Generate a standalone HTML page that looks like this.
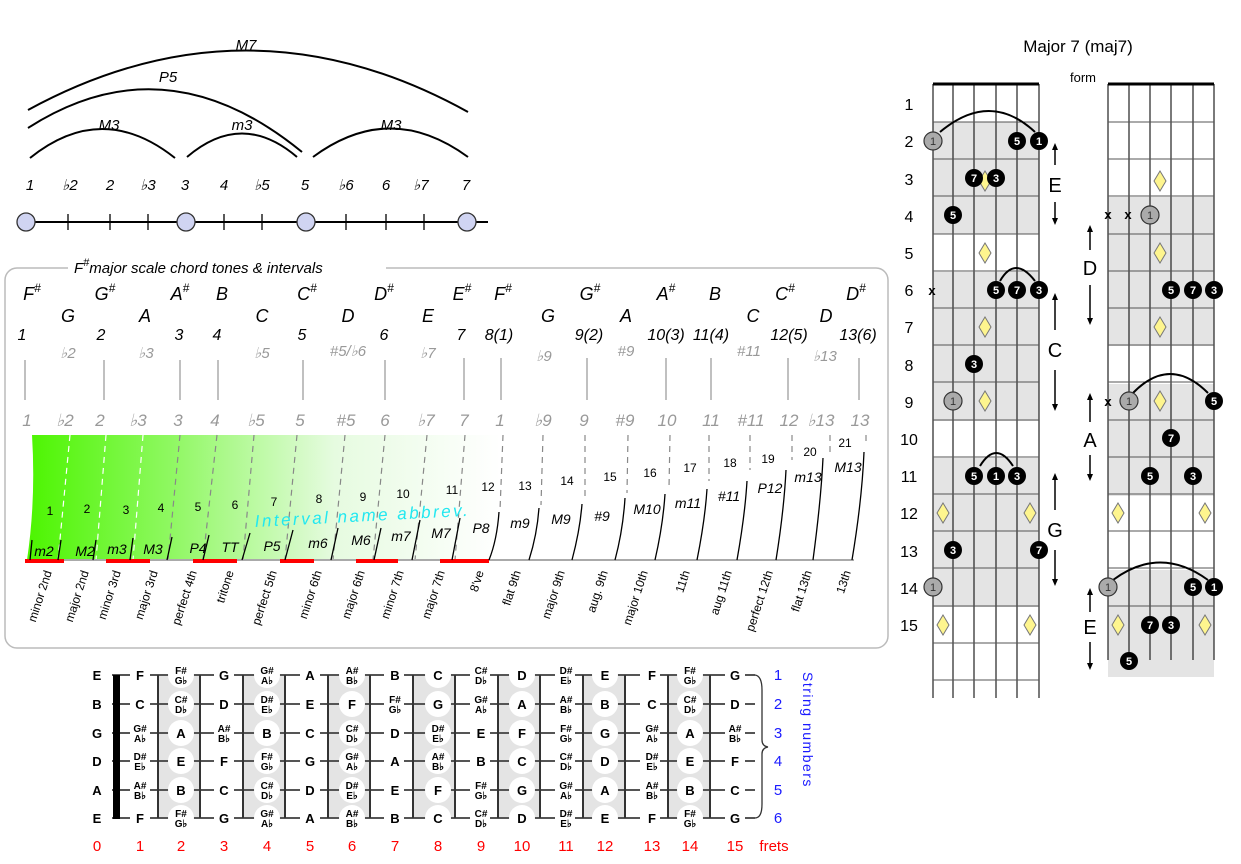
<!DOCTYPE html>
<html><head><meta charset="utf-8"><style>
html,body{margin:0;padding:0;background:#fff}
svg{display:block;font-family:"Liberation Sans",sans-serif}
.i{font-style:italic}
.g{fill:#999}
.fb text{font-weight:bold;font-size:13px;text-anchor:middle}
.fb .s{font-size:10px}
</style></head><body>
<svg width="1241" height="864" viewBox="0 0 1241 864" xmlns="http://www.w3.org/2000/svg">
<defs>
<linearGradient id="gr" x1="0" x2="1" y1="0" y2="0"><stop offset="0" stop-color="#4cf500"/><stop offset="0.3" stop-color="#8ef860"/><stop offset="0.65" stop-color="#e6fbe0"/><stop offset="1" stop-color="#fff"/></linearGradient>
</defs>
<!-- top arcs -->
<g fill="none" stroke="#000" stroke-width="2">
<path d="M28 110 Q248 -10 468 112"/>
<path d="M28 128 Q165 40 302 152"/>
<path d="M30 158 Q102 100 175 158"/>
<path d="M187 157 Q242 110 297 157"/>
<path d="M313 157 Q390 100 468 157"/>
</g>
<g class="i" font-size="15" text-anchor="middle">
<text x="246" y="50">M7</text><text x="168" y="82">P5</text><text x="109" y="130">M3</text><text x="242" y="130">m3</text><text x="391" y="130">M3</text>
<text x="30" y="190">1</text><text x="70" y="190">♭2</text><text x="110" y="190">2</text><text x="148" y="190">♭3</text><text x="185" y="190">3</text><text x="224" y="190">4</text><text x="262" y="190">♭5</text><text x="305" y="190">5</text><text x="346" y="190">♭6</text><text x="386" y="190">6</text><text x="421" y="190">♭7</text><text x="466" y="190">7</text>
</g>
<line x1="25" y1="222" x2="488" y2="222" stroke="#000" stroke-width="2"/>
<g stroke="#000" stroke-width="1.3"><line x1="68" y1="214" x2="68" y2="230"/><line x1="110" y1="214" x2="110" y2="230"/><line x1="148" y1="214" x2="148" y2="230"/><line x1="224" y1="214" x2="224" y2="230"/><line x1="262" y1="214" x2="262" y2="230"/><line x1="346" y1="214" x2="346" y2="230"/><line x1="386" y1="214" x2="386" y2="230"/><line x1="424" y1="214" x2="424" y2="230"/></g>
<g fill="#d0d4f2" stroke="#333" stroke-width="1.3"><circle cx="26" cy="222" r="9"/><circle cx="186" cy="222" r="9"/><circle cx="306" cy="222" r="9"/><circle cx="467" cy="222" r="9"/></g>

<!-- box -->
<rect x="5" y="268" width="883" height="380" rx="12" fill="#fff" stroke="#bbb" stroke-width="1.5"/>
<rect x="68" y="258" width="318" height="18" fill="#fff"/>
<text x="74" y="273" class="i" font-size="15">F<tspan font-size="11" dy="-7">#</tspan><tspan dy="7">major scale chord tones &amp; intervals</tspan></text>

<g class="i" font-size="18" text-anchor="middle">
<text x="32" y="300">F<tspan font-size="12" dy="-8">#</tspan></text>
<text x="105" y="300">G<tspan font-size="12" dy="-8">#</tspan></text>
<text x="180" y="300">A<tspan font-size="12" dy="-8">#</tspan></text>
<text x="222" y="300">B</text>
<text x="307" y="300">C<tspan font-size="12" dy="-8">#</tspan></text>
<text x="384" y="300">D<tspan font-size="12" dy="-8">#</tspan></text>
<text x="462" y="300">E<tspan font-size="12" dy="-8">#</tspan></text>
<text x="503" y="300">F<tspan font-size="12" dy="-8">#</tspan></text>
<text x="590" y="300">G<tspan font-size="12" dy="-8">#</tspan></text>
<text x="666" y="300">A<tspan font-size="12" dy="-8">#</tspan></text>
<text x="715" y="300">B</text>
<text x="785" y="300">C<tspan font-size="12" dy="-8">#</tspan></text>
<text x="856" y="300">D<tspan font-size="12" dy="-8">#</tspan></text>
<text x="68" y="322">G</text><text x="145" y="322">A</text><text x="262" y="322">C</text><text x="348" y="322">D</text><text x="428" y="322">E</text><text x="548" y="322">G</text><text x="626" y="322">A</text><text x="753" y="322">C</text><text x="826" y="322">D</text>
</g>
<g class="i" font-size="16" text-anchor="middle">
<text x="22" y="340">1</text><text x="101" y="340">2</text><text x="179" y="340">3</text><text x="217" y="340">4</text><text x="302" y="340">5</text><text x="384" y="340">6</text><text x="461" y="340">7</text><text x="499" y="340">8(1)</text><text x="589" y="340">9(2)</text><text x="666" y="340">10(3)</text><text x="711" y="340">11(4)</text><text x="789" y="340">12(5)</text><text x="858" y="340">13(6)</text>
</g>
<g class="i g" font-size="15" text-anchor="middle">
<text x="68" y="358">♭2</text><text x="146" y="358">♭3</text><text x="262" y="358">♭5</text><text x="348" y="356">#5/♭6</text><text x="428" y="358">♭7</text><text x="544" y="361">♭9</text><text x="626" y="356">#9</text><text x="749" y="356">#11</text><text x="825" y="361">♭13</text>
</g>
<g stroke="#aaa" stroke-width="1.5"><line x1="25" y1="360" x2="25" y2="400"/><line x1="104" y1="360" x2="104" y2="400"/><line x1="180" y1="360" x2="180" y2="400"/><line x1="218" y1="360" x2="218" y2="400"/><line x1="303" y1="360" x2="303" y2="400"/><line x1="385" y1="360" x2="385" y2="400"/><line x1="464" y1="358" x2="464" y2="400"/><line x1="501" y1="358" x2="501" y2="400"/><line x1="587" y1="358" x2="587" y2="400"/><line x1="666" y1="358" x2="666" y2="400"/><line x1="711" y1="358" x2="711" y2="400"/><line x1="788" y1="358" x2="788" y2="400"/><line x1="859" y1="358" x2="859" y2="400"/></g>
<g class="i g" font-size="17" text-anchor="middle">
<text x="27" y="426">1</text><text x="65" y="426">♭2</text><text x="100" y="426">2</text><text x="138" y="426">♭3</text><text x="178" y="426">3</text><text x="215" y="426">4</text><text x="256" y="426">♭5</text><text x="300" y="426">5</text><text x="346" y="426">#5</text><text x="385" y="426">6</text><text x="426" y="426">♭7</text><text x="464" y="426">7</text><text x="500" y="426">1</text><text x="543" y="426">♭9</text><text x="584" y="426">9</text><text x="625" y="426">#9</text><text x="667" y="426">10</text><text x="711" y="426">11</text><text x="751" y="426">#11</text><text x="789" y="426">12</text><text x="821" y="426">♭13</text><text x="860" y="426">13</text>
</g>
<!-- green area -->
<path d="M32 435 L500 435 L500 560 L27 560 Q36 500 32 435 Z" fill="url(#gr)"/>
<g stroke-dasharray="6,5" stroke-width="1.2" stroke="#fff"><line x1="70" y1="435" x2="58" y2="560"/><line x1="106" y1="435" x2="96" y2="560"/><line x1="143" y1="435" x2="133" y2="560"/></g>
<g stroke-dasharray="6,5" stroke-width="1.2" stroke="#888"><line x1="180" y1="435" x2="168" y2="560"/><line x1="217" y1="435" x2="203" y2="560"/><line x1="254" y1="435" x2="243" y2="560"/><line x1="297" y1="435" x2="285" y2="560"/><line x1="345" y1="435" x2="333" y2="560"/><line x1="385" y1="435" x2="373" y2="560"/><line x1="427" y1="435" x2="415" y2="560"/><line x1="465" y1="435" x2="455" y2="560"/><line x1="503" y1="435" x2="500" y2="510"/><line x1="543" y1="435" x2="541" y2="505"/><line x1="585" y1="435" x2="585" y2="500"/><line x1="628" y1="435" x2="627" y2="493"/><line x1="670" y1="435" x2="669" y2="488"/><line x1="709" y1="435" x2="709" y2="481"/><line x1="750" y1="435" x2="750" y2="470"/><line x1="792" y1="435" x2="792" y2="460"/><line x1="830" y1="435" x2="830" y2="455"/><line x1="866" y1="435" x2="866" y2="445"/></g>
<line x1="25" y1="560" x2="854" y2="560" stroke="#aaa" stroke-width="2"/>
<g stroke="#f00" stroke-width="4"><line x1="25" y1="561" x2="64" y2="561"/><line x1="106" y1="561" x2="150" y2="561"/><line x1="193" y1="561" x2="237" y2="561"/><line x1="280" y1="561" x2="314" y2="561"/><line x1="356" y1="561" x2="398" y2="561"/><line x1="440" y1="561" x2="489" y2="561"/></g>
<g fill="none" stroke="#000" stroke-width="1.3">
<path d="M30 560 L32 540"/><path d="M58 560 L61 540"/><path d="M93 560 L96 540"/><path d="M130 560 L133 538"/><path d="M167 560 L172 537"/><path d="M203 560 L209 535"/><path d="M242 560 L250 533"/><path d="M285 560 L293 530"/><path d="M331 560 L338 528"/><path d="M374 560 L381 528"/><path d="M412 560 L420 520"/><path d="M452 560 L460 518"/>
<path d="M489 560 Q497 540 499 512"/><path d="M529 560 Q537 535 539 508"/><path d="M572 560 Q580 530 582 504"/><path d="M615 560 Q623 530 625 498"/><path d="M655 560 Q663 525 665 494"/><path d="M697 560 Q705 520 707 489"/><path d="M737 560 Q745 515 747 481"/><path d="M776 560 Q784 510 786 470"/><path d="M813 560 Q821 500 823 458"/><path d="M852 560 Q862 500 864 452"/>
</g>
<g font-size="12" text-anchor="middle">
<text x="50" y="515">1</text><text x="87" y="513">2</text><text x="126" y="514">3</text><text x="161" y="512">4</text><text x="198" y="511">5</text><text x="235" y="509">6</text><text x="274" y="506">7</text><text x="319" y="503">8</text><text x="363" y="501">9</text><text x="403" y="498">10</text><text x="452" y="494">11</text><text x="488" y="491">12</text><text x="525" y="490">13</text><text x="567" y="485">14</text><text x="610" y="481">15</text><text x="650" y="477">16</text><text x="690" y="472">17</text><text x="730" y="467">18</text><text x="768" y="463">19</text><text x="810" y="456">20</text><text x="845" y="447">21</text>
</g>
<g class="i" font-size="14" text-anchor="middle">
<text x="44" y="556">m2</text><text x="85" y="556">M2</text><text x="117" y="554">m3</text><text x="153" y="554">M3</text><text x="198" y="553">P4</text><text x="230" y="552">TT</text><text x="272" y="551">P5</text><text x="318" y="548">m6</text><text x="361" y="545">M6</text><text x="401" y="541">m7</text><text x="441" y="538">M7</text><text x="481" y="533">P8</text><text x="520" y="528">m9</text><text x="561" y="524">M9</text><text x="602" y="521">#9</text><text x="647" y="514">M10</text><text x="688" y="508">m11</text><text x="729" y="501">#11</text><text x="770" y="493">P12</text><text x="808" y="482">m13</text><text x="848" y="472">M13</text>
</g>
<text x="255" y="527" transform="rotate(-3 255 527)" class="i" font-size="17" fill="#22e8f0" letter-spacing="2.5">Interval name abbrev.</text>
<g font-size="12" text-anchor="end">
<text transform="translate(52,572) rotate(-72)">minor 2nd</text><text transform="translate(89,572) rotate(-72)">major 2nd</text><text transform="translate(121,572) rotate(-72)">minor 3rd</text><text transform="translate(158,572) rotate(-72)">major 3rd</text><text transform="translate(197,572) rotate(-72)">perfect 4th</text><text transform="translate(234,572) rotate(-72)">tritone</text><text transform="translate(277,572) rotate(-72)">perfect 5th</text><text transform="translate(322,572) rotate(-72)">minor 6th</text><text transform="translate(365,572) rotate(-72)">major 6th</text><text transform="translate(404,572) rotate(-72)">minor 7th</text><text transform="translate(445,572) rotate(-72)">major 7th</text><text transform="translate(484,572) rotate(-72)">8've</text><text transform="translate(521,572) rotate(-72)">flat 9th</text><text transform="translate(565,572) rotate(-72)">major 9th</text><text transform="translate(608,572) rotate(-72)">aug. 9th</text><text transform="translate(648,572) rotate(-72)">major 10th</text><text transform="translate(690,572) rotate(-72)">11th</text><text transform="translate(732,572) rotate(-72)">aug 11th</text><text transform="translate(773,572) rotate(-72)">perfect 12th</text><text transform="translate(812,572) rotate(-72)">flat 13th</text><text transform="translate(851,572) rotate(-72)">13th</text>
</g>

<!-- bottom fretboard -->
<g fill="#e4e4e4"><rect x="158" y="675" width="42" height="144"/><rect x="243" y="675" width="42" height="144"/><rect x="328" y="675" width="42" height="144"/><rect x="413" y="675" width="42" height="144"/><rect x="498" y="675" width="42" height="144"/><rect x="583" y="675" width="42" height="144"/><rect x="668" y="675" width="42" height="144"/></g>
<g stroke="#555" stroke-width="2"><line x1="112" y1="675" x2="755" y2="675"/><line x1="112" y1="704" x2="755" y2="704"/><line x1="112" y1="733" x2="755" y2="733"/><line x1="112" y1="761" x2="755" y2="761"/><line x1="112" y1="790" x2="755" y2="790"/><line x1="112" y1="818" x2="755" y2="818"/></g>
<g fill="#fff"><rect x="130" y="668" width="20" height="158"/><rect x="214" y="668" width="20" height="158"/><rect x="300" y="668" width="20" height="158"/><rect x="384" y="668" width="20" height="158"/><rect x="470" y="668" width="20" height="158"/><rect x="555" y="668" width="20" height="158"/><rect x="640" y="668" width="20" height="158"/><rect x="725" y="668" width="20" height="158"/></g>
<g fill="#fff"><circle cx="181" cy="675" r="13"/><circle cx="181" cy="704" r="13"/><circle cx="181" cy="733" r="13"/><circle cx="181" cy="761" r="13"/><circle cx="181" cy="790" r="13"/><circle cx="181" cy="818" r="13"/>
<circle cx="267" cy="675" r="13"/><circle cx="267" cy="704" r="13"/><circle cx="267" cy="733" r="13"/><circle cx="267" cy="761" r="13"/><circle cx="267" cy="790" r="13"/><circle cx="267" cy="818" r="13"/>
<circle cx="352" cy="675" r="13"/><circle cx="352" cy="704" r="13"/><circle cx="352" cy="733" r="13"/><circle cx="352" cy="761" r="13"/><circle cx="352" cy="790" r="13"/><circle cx="352" cy="818" r="13"/>
<circle cx="438" cy="675" r="13"/><circle cx="438" cy="704" r="13"/><circle cx="438" cy="733" r="13"/><circle cx="438" cy="761" r="13"/><circle cx="438" cy="790" r="13"/><circle cx="438" cy="818" r="13"/>
<circle cx="522" cy="675" r="13"/><circle cx="522" cy="704" r="13"/><circle cx="522" cy="733" r="13"/><circle cx="522" cy="761" r="13"/><circle cx="522" cy="790" r="13"/><circle cx="522" cy="818" r="13"/>
<circle cx="605" cy="675" r="13"/><circle cx="605" cy="704" r="13"/><circle cx="605" cy="733" r="13"/><circle cx="605" cy="761" r="13"/><circle cx="605" cy="790" r="13"/><circle cx="605" cy="818" r="13"/>
<circle cx="690" cy="675" r="13"/><circle cx="690" cy="704" r="13"/><circle cx="690" cy="733" r="13"/><circle cx="690" cy="761" r="13"/><circle cx="690" cy="790" r="13"/><circle cx="690" cy="818" r="13"/></g>
<g stroke="#333" stroke-width="2"><line x1="158" y1="675" x2="158" y2="818"/><line x1="200" y1="675" x2="200" y2="818"/><line x1="243" y1="675" x2="243" y2="818"/><line x1="285" y1="675" x2="285" y2="818"/><line x1="328" y1="675" x2="328" y2="818"/><line x1="370" y1="675" x2="370" y2="818"/><line x1="413" y1="675" x2="413" y2="818"/><line x1="455" y1="675" x2="455" y2="818"/><line x1="498" y1="675" x2="498" y2="818"/><line x1="540" y1="675" x2="540" y2="818"/><line x1="583" y1="675" x2="583" y2="818"/><line x1="625" y1="675" x2="625" y2="818"/><line x1="668" y1="675" x2="668" y2="818"/><line x1="710" y1="675" x2="710" y2="818"/></g>
<rect x="113" y="675" width="7" height="144" fill="#000"/>
<path d="M755 675 Q762 676 762 690 L762 740 Q762 746 768 747 Q762 748 762 754 L762 804 Q762 818 755 818" fill="none" stroke="#333" stroke-width="1.3"/>
<g class="fb">
<text x="97" y="680">E</text><text x="97" y="709">B</text><text x="97" y="738">G</text><text x="97" y="766">D</text><text x="97" y="795">A</text><text x="97" y="823">E</text>
<text x="140" y="680">F</text><text x="181" y="674" class="s">F#</text><text x="181" y="684" class="s">G♭</text><text x="224" y="680">G</text><text x="267" y="674" class="s">G#</text><text x="267" y="684" class="s">A♭</text><text x="310" y="680">A</text><text x="352" y="674" class="s">A#</text><text x="352" y="684" class="s">B♭</text><text x="395" y="680">B</text><text x="438" y="680">C</text><text x="481" y="674" class="s">C#</text><text x="481" y="684" class="s">D♭</text><text x="522" y="680">D</text><text x="566" y="674" class="s">D#</text><text x="566" y="684" class="s">E♭</text><text x="605" y="680">E</text><text x="652" y="680">F</text><text x="690" y="674" class="s">F#</text><text x="690" y="684" class="s">G♭</text><text x="735" y="680">G</text>
<text x="140" y="709">C</text><text x="181" y="703" class="s">C#</text><text x="181" y="713" class="s">D♭</text><text x="224" y="709">D</text><text x="267" y="703" class="s">D#</text><text x="267" y="713" class="s">E♭</text><text x="310" y="709">E</text><text x="352" y="709">F</text><text x="395" y="703" class="s">F#</text><text x="395" y="713" class="s">G♭</text><text x="438" y="709">G</text><text x="481" y="703" class="s">G#</text><text x="481" y="713" class="s">A♭</text><text x="522" y="709">A</text><text x="566" y="703" class="s">A#</text><text x="566" y="713" class="s">B♭</text><text x="605" y="709">B</text><text x="652" y="709">C</text><text x="690" y="703" class="s">C#</text><text x="690" y="713" class="s">D♭</text><text x="735" y="709">D</text>
<text x="140" y="732" class="s">G#</text><text x="140" y="742" class="s">A♭</text><text x="181" y="738">A</text><text x="224" y="732" class="s">A#</text><text x="224" y="742" class="s">B♭</text><text x="267" y="738">B</text><text x="310" y="738">C</text><text x="352" y="732" class="s">C#</text><text x="352" y="742" class="s">D♭</text><text x="395" y="738">D</text><text x="438" y="732" class="s">D#</text><text x="438" y="742" class="s">E♭</text><text x="481" y="738">E</text><text x="522" y="738">F</text><text x="566" y="732" class="s">F#</text><text x="566" y="742" class="s">G♭</text><text x="605" y="738">G</text><text x="652" y="732" class="s">G#</text><text x="652" y="742" class="s">A♭</text><text x="690" y="738">A</text><text x="735" y="732" class="s">A#</text><text x="735" y="742" class="s">B♭</text>
<text x="140" y="760" class="s">D#</text><text x="140" y="770" class="s">E♭</text><text x="181" y="766">E</text><text x="224" y="766">F</text><text x="267" y="760" class="s">F#</text><text x="267" y="770" class="s">G♭</text><text x="310" y="766">G</text><text x="352" y="760" class="s">G#</text><text x="352" y="770" class="s">A♭</text><text x="395" y="766">A</text><text x="438" y="760" class="s">A#</text><text x="438" y="770" class="s">B♭</text><text x="481" y="766">B</text><text x="522" y="766">C</text><text x="566" y="760" class="s">C#</text><text x="566" y="770" class="s">D♭</text><text x="605" y="766">D</text><text x="652" y="760" class="s">D#</text><text x="652" y="770" class="s">E♭</text><text x="690" y="766">E</text><text x="735" y="766">F</text>
<text x="140" y="789" class="s">A#</text><text x="140" y="799" class="s">B♭</text><text x="181" y="795">B</text><text x="224" y="795">C</text><text x="267" y="789" class="s">C#</text><text x="267" y="799" class="s">D♭</text><text x="310" y="795">D</text><text x="352" y="789" class="s">D#</text><text x="352" y="799" class="s">E♭</text><text x="395" y="795">E</text><text x="438" y="795">F</text><text x="481" y="789" class="s">F#</text><text x="481" y="799" class="s">G♭</text><text x="522" y="795">G</text><text x="566" y="789" class="s">G#</text><text x="566" y="799" class="s">A♭</text><text x="605" y="795">A</text><text x="652" y="789" class="s">A#</text><text x="652" y="799" class="s">B♭</text><text x="690" y="795">B</text><text x="735" y="795">C</text>
<text x="140" y="823">F</text><text x="181" y="817" class="s">F#</text><text x="181" y="827" class="s">G♭</text><text x="224" y="823">G</text><text x="267" y="817" class="s">G#</text><text x="267" y="827" class="s">A♭</text><text x="310" y="823">A</text><text x="352" y="817" class="s">A#</text><text x="352" y="827" class="s">B♭</text><text x="395" y="823">B</text><text x="438" y="823">C</text><text x="481" y="817" class="s">C#</text><text x="481" y="827" class="s">D♭</text><text x="522" y="823">D</text><text x="566" y="817" class="s">D#</text><text x="566" y="827" class="s">E♭</text><text x="605" y="823">E</text><text x="652" y="823">F</text><text x="690" y="817" class="s">F#</text><text x="690" y="827" class="s">G♭</text><text x="735" y="823">G</text>
</g>
<g fill="#f00" font-size="15" text-anchor="middle">
<text x="97" y="851">0</text><text x="140" y="851">1</text><text x="181" y="851">2</text><text x="224" y="851">3</text><text x="267" y="851">4</text><text x="310" y="851">5</text><text x="352" y="851">6</text><text x="395" y="851">7</text><text x="438" y="851">8</text><text x="481" y="851">9</text><text x="522" y="851">10</text><text x="566" y="851">11</text><text x="605" y="851">12</text><text x="652" y="851">13</text><text x="690" y="851">14</text><text x="735" y="851">15</text><text x="774" y="851">frets</text>
</g>
<g fill="#1a1aff" font-size="15" text-anchor="middle">
<text x="778" y="680">1</text><text x="778" y="709">2</text><text x="778" y="738">3</text><text x="778" y="766">4</text><text x="778" y="795">5</text><text x="778" y="823">6</text>
</g>
<text transform="translate(803,672) rotate(90)" fill="#1a1aff" font-size="14" letter-spacing="1.5">String numbers</text>

<!-- right chord diagrams -->
<text x="1078" y="52" font-size="17" text-anchor="middle">Major 7 (maj7)</text>
<text x="1083" y="82" font-size="13" text-anchor="middle">form</text>
<g fill="#e4e4e4">
<rect x="933" y="122" width="106" height="112"/><rect x="933" y="272" width="106" height="149"/><rect x="933" y="458" width="106" height="149"/>
<rect x="1108" y="197" width="106" height="149"/><rect x="1108" y="384" width="106" height="112"/><rect x="1108" y="570" width="106" height="107"/>
</g>
<g stroke="#222" stroke-width="1.2">
<line x1="933" y1="84" x2="933" y2="698"/><line x1="953" y1="84" x2="953" y2="698"/><line x1="974" y1="84" x2="974" y2="698"/><line x1="996" y1="84" x2="996" y2="698"/><line x1="1017" y1="84" x2="1017" y2="698"/><line x1="1039" y1="84" x2="1039" y2="698"/>
<line x1="1108" y1="84" x2="1108" y2="660"/><line x1="1129" y1="84" x2="1129" y2="660"/><line x1="1150" y1="84" x2="1150" y2="660"/><line x1="1171" y1="84" x2="1171" y2="660"/><line x1="1193" y1="84" x2="1193" y2="660"/><line x1="1214" y1="84" x2="1214" y2="660"/>
</g>
<g stroke="#555" stroke-width="1">
<line x1="933" y1="122" x2="1039" y2="122"/><line x1="933" y1="159" x2="1039" y2="159"/><line x1="933" y1="196" x2="1039" y2="196"/><line x1="933" y1="234" x2="1039" y2="234"/><line x1="933" y1="271" x2="1039" y2="271"/><line x1="933" y1="308" x2="1039" y2="308"/><line x1="933" y1="345" x2="1039" y2="345"/><line x1="933" y1="382" x2="1039" y2="382"/><line x1="933" y1="420" x2="1039" y2="420"/><line x1="933" y1="457" x2="1039" y2="457"/><line x1="933" y1="494" x2="1039" y2="494"/><line x1="933" y1="531" x2="1039" y2="531"/><line x1="933" y1="568" x2="1039" y2="568"/><line x1="933" y1="606" x2="1039" y2="606"/><line x1="933" y1="643" x2="1039" y2="643"/><line x1="933" y1="680" x2="1039" y2="680"/>
<line x1="1108" y1="122" x2="1214" y2="122"/><line x1="1108" y1="159" x2="1214" y2="159"/><line x1="1108" y1="196" x2="1214" y2="196"/><line x1="1108" y1="234" x2="1214" y2="234"/><line x1="1108" y1="271" x2="1214" y2="271"/><line x1="1108" y1="308" x2="1214" y2="308"/><line x1="1108" y1="345" x2="1214" y2="345"/><line x1="1108" y1="382" x2="1214" y2="382"/><line x1="1108" y1="420" x2="1214" y2="420"/><line x1="1108" y1="457" x2="1214" y2="457"/><line x1="1108" y1="494" x2="1214" y2="494"/><line x1="1108" y1="531" x2="1214" y2="531"/><line x1="1108" y1="568" x2="1214" y2="568"/><line x1="1108" y1="606" x2="1214" y2="606"/>
</g>
<g stroke="#000" stroke-width="3"><line x1="933" y1="84" x2="1039" y2="84"/><line x1="1108" y1="84" x2="1214" y2="84"/></g>
<g font-size="16" text-anchor="middle">
<text x="909" y="110">1</text><text x="909" y="147">2</text><text x="909" y="185">3</text><text x="909" y="222">4</text><text x="909" y="259">5</text><text x="909" y="296">6</text><text x="909" y="333">7</text><text x="909" y="371">8</text><text x="909" y="408">9</text><text x="909" y="445">10</text><text x="909" y="482">11</text><text x="909" y="519">12</text><text x="909" y="557">13</text><text x="909" y="594">14</text><text x="909" y="631">15</text>
</g>
<g fill="none" stroke="#000" stroke-width="2">
<path d="M940 132 Q990 90 1035 132"/><path d="M1000 281 Q1015 255 1035 281"/><path d="M980 466 Q996 440 1013 466"/>
<path d="M1133 393 Q1170 355 1208 393"/><path d="M1113 580 Q1160 545 1208 580"/>
</g>
<g fill="#fef58e" stroke="#777" stroke-width="1">
<path d="M985 171 l6 10 l-6 10 l-6 -10z"/><path d="M985 243 l6 10 l-6 10 l-6 -10z"/><path d="M985 317 l6 10 l-6 10 l-6 -10z"/><path d="M985 391 l6 10 l-6 10 l-6 -10z"/><path d="M943 503 l6 10 l-6 10 l-6 -10z"/><path d="M1030 503 l6 10 l-6 10 l-6 -10z"/><path d="M943 615 l6 10 l-6 10 l-6 -10z"/><path d="M1030 615 l6 10 l-6 10 l-6 -10z"/>
<path d="M1160 171 l6 10 l-6 10 l-6 -10z"/><path d="M1160 243 l6 10 l-6 10 l-6 -10z"/><path d="M1160 317 l6 10 l-6 10 l-6 -10z"/><path d="M1160 391 l6 10 l-6 10 l-6 -10z"/><path d="M1118 503 l6 10 l-6 10 l-6 -10z"/><path d="M1205 503 l6 10 l-6 10 l-6 -10z"/><path d="M1118 615 l6 10 l-6 10 l-6 -10z"/><path d="M1205 615 l6 10 l-6 10 l-6 -10z"/>
</g>
<g fill="#aaa" stroke="#333" stroke-width="1.2"><circle cx="933" cy="141" r="9"/><circle cx="953" cy="401" r="9"/><circle cx="933" cy="587" r="9"/><circle cx="1150" cy="215" r="9"/><circle cx="1129" cy="401" r="9"/><circle cx="1108" cy="587" r="9"/></g>
<g font-size="11" text-anchor="middle" fill="#333"><text x="933" y="145">1</text><text x="953" y="405">1</text><text x="933" y="591">1</text><text x="1150" y="219">1</text><text x="1129" y="405">1</text><text x="1108" y="591">1</text></g>
<g fill="#000"><circle cx="1017" cy="141" r="9"/><circle cx="1039" cy="141" r="9"/><circle cx="974" cy="178" r="9"/><circle cx="996" cy="178" r="9"/><circle cx="953" cy="215" r="9"/><circle cx="996" cy="290" r="9"/><circle cx="1017" cy="290" r="9"/><circle cx="1039" cy="290" r="9"/><circle cx="974" cy="364" r="9"/><circle cx="974" cy="476" r="9"/><circle cx="996" cy="476" r="9"/><circle cx="1017" cy="476" r="9"/><circle cx="953" cy="550" r="9"/><circle cx="1039" cy="550" r="9"/>
<circle cx="1171" cy="290" r="9"/><circle cx="1193" cy="290" r="9"/><circle cx="1214" cy="290" r="9"/><circle cx="1214" cy="401" r="9"/><circle cx="1171" cy="438" r="9"/><circle cx="1150" cy="476" r="9"/><circle cx="1193" cy="476" r="9"/><circle cx="1193" cy="587" r="9"/><circle cx="1214" cy="587" r="9"/><circle cx="1150" cy="625" r="9"/><circle cx="1171" cy="625" r="9"/><circle cx="1129" cy="661" r="9"/></g>
<g font-size="11" font-weight="bold" text-anchor="middle" fill="#fff">
<text x="1017" y="145">5</text><text x="1039" y="145">1</text><text x="974" y="182">7</text><text x="996" y="182">3</text><text x="953" y="219">5</text><text x="996" y="294">5</text><text x="1017" y="294">7</text><text x="1039" y="294">3</text><text x="974" y="368">3</text><text x="974" y="480">5</text><text x="996" y="480">1</text><text x="1017" y="480">3</text><text x="953" y="554">3</text><text x="1039" y="554">7</text>
<text x="1171" y="294">5</text><text x="1193" y="294">7</text><text x="1214" y="294">3</text><text x="1214" y="405">5</text><text x="1171" y="442">7</text><text x="1150" y="480">5</text><text x="1193" y="480">3</text><text x="1193" y="591">5</text><text x="1214" y="591">1</text><text x="1150" y="629">7</text><text x="1171" y="629">3</text><text x="1129" y="665">5</text>
</g>
<g font-size="13" font-weight="bold" text-anchor="middle"><text x="932" y="295">x</text><text x="1108" y="219">x</text><text x="1128" y="219">x</text><text x="1108" y="406">x</text></g>
<g stroke="#000" stroke-width="1.5">
<line x1="1055" y1="148" x2="1055" y2="165"/><line x1="1055" y1="202" x2="1055" y2="220"/>
<line x1="1055" y1="298" x2="1055" y2="330"/><line x1="1055" y1="370" x2="1055" y2="405"/>
<line x1="1055" y1="478" x2="1055" y2="510"/><line x1="1055" y1="550" x2="1055" y2="580"/>
<line x1="1090" y1="230" x2="1090" y2="250"/><line x1="1090" y1="285" x2="1090" y2="320"/>
<line x1="1090" y1="398" x2="1090" y2="422"/><line x1="1090" y1="455" x2="1090" y2="476"/>
<line x1="1090" y1="593" x2="1090" y2="612"/><line x1="1090" y1="642" x2="1090" y2="665"/>
</g>
<g fill="#000">
<path d="M1052 150 l3 -7 l3 7z"/><path d="M1052 218 l3 7 l3 -7z"/>
<path d="M1052 300 l3 -7 l3 7z"/><path d="M1052 404 l3 7 l3 -7z"/>
<path d="M1052 480 l3 -7 l3 7z"/><path d="M1052 579 l3 7 l3 -7z"/>
<path d="M1087 232 l3 -7 l3 7z"/><path d="M1087 318 l3 7 l3 -7z"/>
<path d="M1087 400 l3 -7 l3 7z"/><path d="M1087 474 l3 7 l3 -7z"/>
<path d="M1087 595 l3 -7 l3 7z"/><path d="M1087 663 l3 7 l3 -7z"/>
</g>
<g font-size="20" text-anchor="middle">
<text x="1055" y="192">E</text><text x="1055" y="357">C</text><text x="1055" y="537">G</text>
<text x="1090" y="275">D</text><text x="1090" y="447">A</text><text x="1090" y="634">E</text>
</g>
</svg>
</body></html>
